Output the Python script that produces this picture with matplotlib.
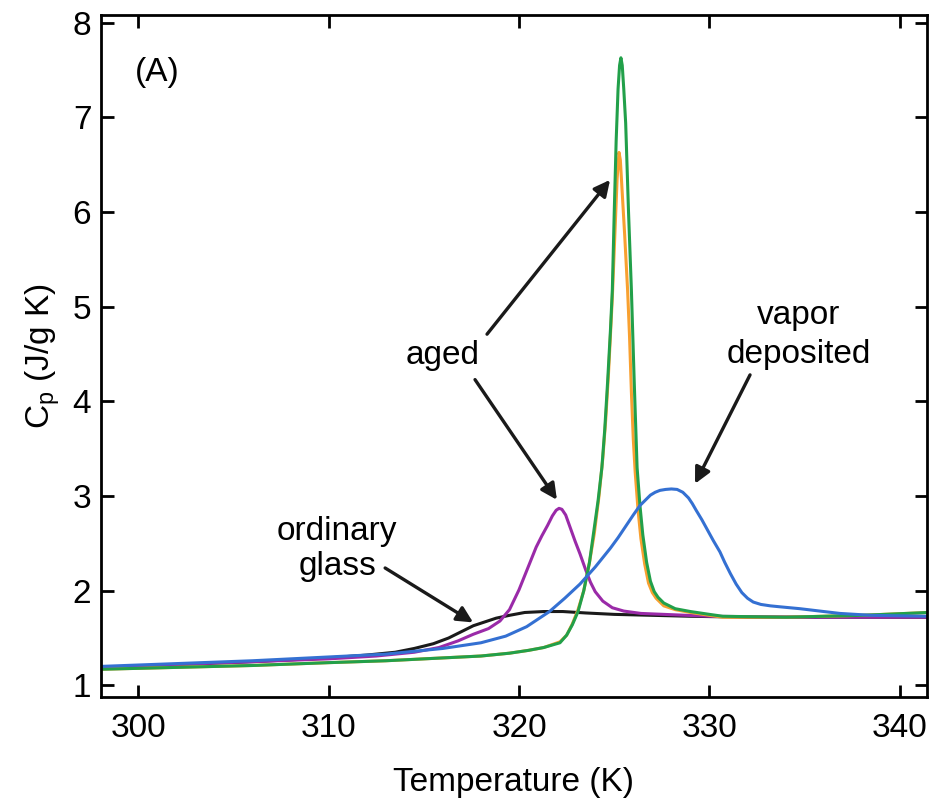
import matplotlib
matplotlib.use("Agg")
import matplotlib.pyplot as plt

plt.rcParams['font.family'] = ['Liberation Sans', 'DejaVu Sans']

# ordinary glass (black)
t_black = [298, 302, 306, 310, 312, 313.5, 314.5, 315.5, 316.3, 317, 317.6, 318.2,
           318.8, 319.5, 320.3, 321.3, 322.3, 323.5, 325, 327, 329, 332, 336, 341.5]
cp_black = [1.19, 1.22, 1.25, 1.29, 1.32, 1.35, 1.39, 1.44, 1.50, 1.57, 1.63, 1.67,
            1.71, 1.74, 1.77, 1.78, 1.78, 1.765, 1.75, 1.74, 1.73, 1.72, 1.72, 1.72]

# aged, short (purple)
t_purple = [298, 302, 306, 310, 312.5, 314.5, 315.8, 316.8, 317.6, 318.4, 319.0, 319.5,
            320.0, 320.3, 320.6, 320.9, 321.2, 321.5, 321.75, 321.95, 322.1, 322.25,
            322.45, 322.7, 322.95, 323.2, 323.5, 323.75, 324.0, 324.4, 324.9, 325.5,
            326.4, 327.6, 330, 335, 341.5]
cp_purple = [1.19, 1.22, 1.25, 1.28, 1.31, 1.35, 1.40, 1.47, 1.54, 1.60, 1.68, 1.80,
             2.01, 2.16, 2.31, 2.46, 2.58, 2.69, 2.79, 2.85, 2.87, 2.86,
             2.80, 2.66, 2.52, 2.39, 2.22, 2.09, 1.99, 1.89, 1.82, 1.785,
             1.76, 1.75, 1.73, 1.72, 1.72]

# vapor deposited (blue)
t_blue = [298, 302, 306, 310, 313, 316, 318, 319.3, 320.4, 321.6, 322.4, 323.2, 323.6,
          324.0, 324.4, 324.8, 325.2, 325.6, 326.0, 326.35, 326.65, 326.9, 327.15, 327.4,
          327.7, 328.0, 328.3, 328.6, 328.9, 329.1, 329.3, 329.6, 329.9, 330.2, 330.55,
          330.8, 331.1, 331.4, 331.7, 332.0, 332.3, 332.7, 333.2, 333.7, 334.75, 336,
          336.85, 338.5, 341.5]
cp_blue = [1.20, 1.23, 1.26, 1.30, 1.33, 1.39, 1.45, 1.52, 1.62, 1.78, 1.92, 2.07, 2.16,
           2.25, 2.35, 2.45, 2.56, 2.68, 2.80, 2.90, 2.96, 3.01, 3.04, 3.06,
           3.07, 3.075, 3.07, 3.04, 2.98, 2.92, 2.85, 2.75, 2.64, 2.53, 2.41,
           2.30, 2.18, 2.07, 1.98, 1.92, 1.88, 1.855, 1.84, 1.83, 1.81, 1.78,
           1.76, 1.74, 1.73]

# aged, long (orange)
t_orange = [298, 302, 306, 310, 313, 316, 318, 319.5, 320.5, 321.3, 322.15, 322.5, 322.8,
            323.1, 323.4, 323.7, 323.95, 324.2, 324.4, 324.55, 324.7, 324.8, 324.9, 325.0,
            325.08, 325.15, 325.25, 325.32, 325.42, 325.55, 325.7, 325.8, 325.9, 326.0,
            326.1, 326.25, 326.4, 326.6, 326.8, 327.0, 327.2, 327.6, 328.2, 329, 330,
            330.7, 334, 338, 341.5]
cp_orange = [1.17, 1.19, 1.21, 1.24, 1.26, 1.29, 1.31, 1.34, 1.37, 1.40, 1.46, 1.53, 1.65,
             1.80, 2.0, 2.3, 2.6, 3.0, 3.4, 3.8, 4.3, 4.7, 5.1, 5.6,
             6.0, 6.35, 6.63, 6.55, 6.2, 5.75, 5.18, 4.7, 4.1, 3.6,
             3.25, 2.85, 2.55, 2.28, 2.08, 1.98, 1.92, 1.84, 1.80, 1.77, 1.74,
             1.72, 1.72, 1.74, 1.77]

# aged, longest (green)
t_green = [298, 302, 306, 310, 313, 316, 318, 319.5, 320.5, 321.3, 322.15, 322.5, 322.8,
           323.1, 323.4, 323.7, 323.9, 324.15, 324.35, 324.5, 324.65, 324.8, 324.9, 325.0,
           325.1, 325.2, 325.28, 325.35, 325.42, 325.5, 325.6, 325.75, 325.9, 326.05,
           326.2, 326.35, 326.5, 326.7, 326.9, 327.1, 327.3, 327.6, 328.2, 329, 330,
           330.7, 334, 338, 341.5]
cp_green = [1.17, 1.19, 1.21, 1.24, 1.26, 1.29, 1.31, 1.34, 1.37, 1.40, 1.45, 1.53, 1.64,
            1.78, 2.0, 2.3, 2.59, 2.95, 3.3, 3.7, 4.2, 4.75, 5.18, 6.0,
            6.75, 7.3, 7.55, 7.63, 7.55, 7.3, 6.94, 6.0, 5.18, 4.2,
            3.3, 2.9, 2.59, 2.30, 2.10, 1.99, 1.93, 1.87, 1.81, 1.78, 1.75,
            1.73, 1.72, 1.74, 1.77]

x_ticks = [300, 310, 320, 330, 340]
y_ticks = [1, 2, 3, 4, 5, 6, 7, 8]

fig = plt.figure(figsize=(9.35, 7.99), dpi=100)
ax = fig.add_axes([0.108, 0.128, 0.883, 0.853])

lw = 2.2
ax.plot(t_black, cp_black, color='#1a1a1a', lw=lw)
ax.plot(t_purple, cp_purple, color='#9a2aa8', lw=lw)
ax.plot(t_orange, cp_orange, color='#f8a030', lw=lw)
ax.plot(t_green, cp_green, color='#22a04a', lw=lw)
ax.plot(t_blue, cp_blue, color='#3470d2', lw=lw)

ax.set_xlim(298.05, 341.4)
ax.set_ylim(0.88, 8.08)
ax.set_xticks(x_ticks)
ax.set_yticks(y_ticks)
ax.tick_params(direction='in', top=True, right=True, length=9, width=2.0,
               labelsize=24)
ax.tick_params(axis='x', pad=12)
ax.tick_params(axis='y', pad=7)
for s in ax.spines.values():
    s.set_linewidth(2.0)

ax.set_xlabel('Temperature (K)', fontsize=24, labelpad=16)
ax.set_ylabel('C$_\\mathregular{p}$ (J/g K)', fontsize=24, labelpad=8)

ax.text(301.0, 7.47, '(A)', fontsize=24, ha='center', va='center')
ax.text(316.0, 4.49, 'aged', fontsize=24, ha='center', va='center')
ax.text(334.7, 4.70, 'vapor\ndeposited', fontsize=24, ha='center', va='center',
        linespacing=1.32)
ax.text(310.45, 2.44, 'ordinary\nglass', fontsize=24, ha='center', va='center',
        linespacing=1.18)

arrow = dict(arrowstyle='-|>', lw=2.4, color='#1a1a1a', mutation_scale=24,
             shrinkA=0, shrinkB=0)
ax.annotate('', xy=(317.59, 1.665), xytext=(312.97, 2.24), arrowprops=arrow)
ax.annotate('', xy=(321.99, 2.96), xytext=(317.69, 4.23), arrowprops=arrow)
ax.annotate('', xy=(324.78, 6.34), xytext=(318.32, 4.71), arrowprops=arrow)
ax.annotate('', xy=(329.24, 3.13), xytext=(332.13, 4.28), arrowprops=arrow)

fig.savefig('out.png', dpi=100)
